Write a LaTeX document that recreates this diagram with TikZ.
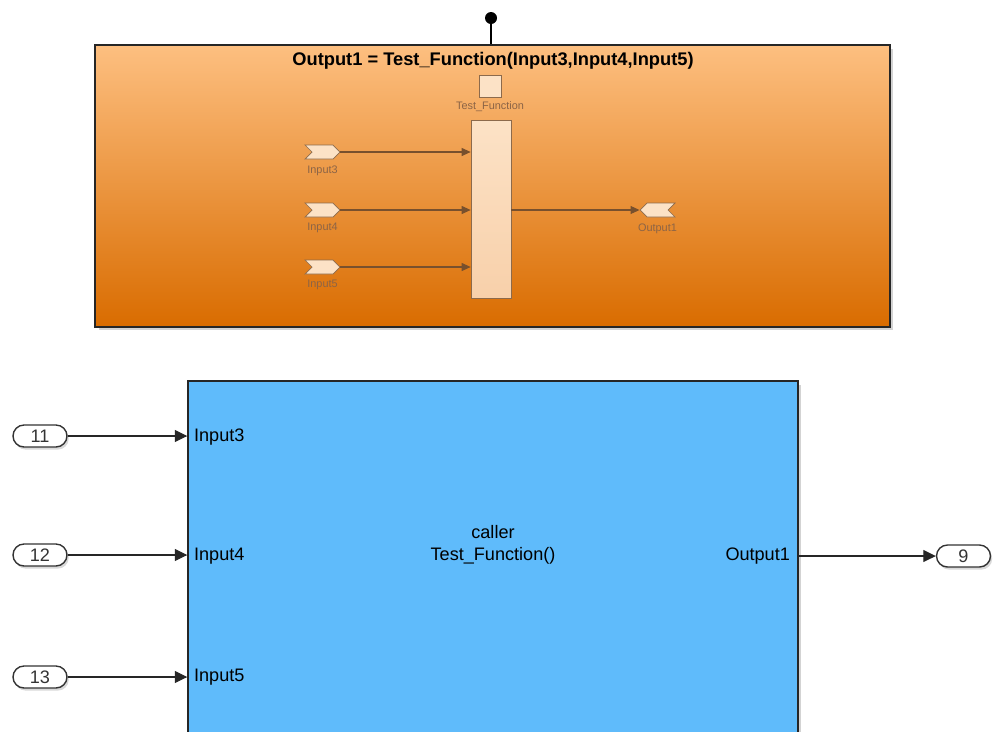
\documentclass[tikz,border=0pt]{standalone}
\usepackage{fontspec}
\setmainfont{Liberation Sans}
\usetikzlibrary{positioning,arrows.meta,shapes.symbols,shadows}
\definecolor{subtop}{RGB}{253,191,128}
\definecolor{submid}{RGB}{245,165,85}
\definecolor{subbot}{RGB}{217,108,0}
\definecolor{callerbg}{RGB}{95,187,251}
\definecolor{peach}{RGB}{252,226,198}
\definecolor{peachdk}{RGB}{248,208,170}
\definecolor{dimline}{RGB}{120,80,45}
\definecolor{dimtext}{RGB}{140,100,70}
\tikzset{
  blk/.style={draw=black!85,line width=0.9pt,inner sep=0pt,
    drop shadow={shadow xshift=2pt,shadow yshift=-2pt,opacity=.35}},
  sub/.style={blk,top color=subtop,middle color=submid,bottom color=subbot},
  callerblk/.style={blk,fill=callerbg},
  inner/.style={draw=dimline!85,fill=peach,inner sep=0pt},
  sig/.style={inner,signal,minimum width=0.7cm,minimum height=0.28cm},
  insig/.style={sig,signal from=west,signal to=east},
  outsig/.style={sig,signal from=east,signal to=west},
  tiny/.style={font=\fontsize{6.2}{7}\selectfont,text=dimtext,inner sep=1pt},
  lbl/.style={font=\fontsize{10.3}{12.4}\selectfont,inner sep=1pt},
  oval/.style={draw=black!80,line width=0.8pt,fill=white,rounded corners=0.22cm,
    minimum width=1.08cm,minimum height=0.44cm,inner sep=0pt,
    font=\fontsize{10.3}{12.4}\selectfont,text=black!80,
    drop shadow={shadow xshift=1pt,shadow yshift=-1.5pt,opacity=.3}},
  ar/.style={-{Triangle[length=2.5mm,width=2.4mm]},line width=0.6pt,black!85},
  dar/.style={-{Triangle[length=1.8mm,width=1.6mm]},line width=0.6pt,dimline},
}
\begin{document}
\begin{tikzpicture}[x=0.02cm,y=-0.02cm]
  \useasboundingbox (0,0) rectangle (993,731);
  \clip (0,0) rectangle (993,731);
  % function subsystem
  \node[sub,minimum width=15.9cm,minimum height=5.64cm] (fsub) at (492.5,186) {};
  \node[circle,fill=black,inner sep=0pt,minimum size=0.24cm] (trig) at (491,18) {};
  \draw[line width=0.8pt] (trig) -- (trig |- fsub.north);
  \node[font=\fontsize{10.4}{12}\selectfont\bfseries,inner sep=1pt] (title) at (493,61)
    {Output1 = Test\_Function(Input3,Input4,Input5)};
  \node[inner,minimum size=0.44cm] (trigport) at (490,86) {};
  \node[tiny] (triglbl) at (490,107) {Test\_Function};
  \node[inner,top color=peach,bottom color=peachdk,minimum width=0.8cm,minimum height=3.56cm] (fn) at (491,209) {};
  \node[insig] (in3) at (322.5,152) {};
  \node[insig] (in4) at (322.5,210) {};
  \node[insig] (in5) at (322.5,267) {};
  \node[tiny,below=0.08cm of in3] {Input3};
  \node[tiny,below=0.08cm of in4] {Input4};
  \node[tiny,below=0.08cm of in5] {Input5};
  \node[outsig] (out1) at (657.5,210) {};
  \node[tiny,below=0.08cm of out1] {Output1};
  \draw[dar] (in3.east) -- (fn.west |- in3);
  \draw[dar] (in4.east) -- (fn.west |- in4);
  \draw[dar] (in5.east) -- (fn.west |- in5);
  \draw[dar] (fn.east |- out1) -- (out1.west);
  % caller block
  \node[callerblk,minimum width=12.2cm,minimum height=7.58cm] (caller) at (493,570.5) {};
  \node[lbl,anchor=west] (p3) at (192,437) {Input3};
  \node[lbl,anchor=west] (p4) at (192,556) {Input4};
  \node[lbl,anchor=west] (p5) at (192,677) {Input5};
  \node[lbl,anchor=east] (po) at (792,556) {Output1};
  \node[lbl,align=center] (cname) at (493,545) {caller\\Test\_Function()};
  \node[oval] (c11) at (40,436) {11};
  \node[oval] (c12) at (40,555) {12};
  \node[oval] (c13) at (40,677) {13};
  \node[oval] (c9) at (963.5,556) {9};
  \draw[ar] (c11) -- (c11 -| caller.west);
  \draw[ar] (c12) -- (c12 -| caller.west);
  \draw[ar] (c13) -- (c13 -| caller.west);
  \draw[ar] (caller.east |- c9) -- (c9);
\end{tikzpicture}
\end{document}
